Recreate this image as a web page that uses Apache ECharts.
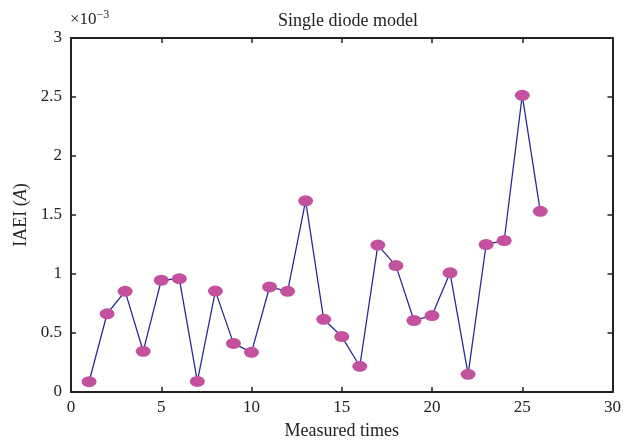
<!DOCTYPE html>
<html>
<head>
<meta charset="utf-8">
<script src="https://cdn.jsdelivr.net/npm/echarts@6/dist/echarts.min.js"></script>
<style>
  html, body { margin: 0; padding: 0; background: #fff; }
  #chart { width: 624px; height: 446px; }
</style>
</head>
<body>
<div id="chart"></div>
<script>
// IAEI values in units of 1e-3 A
const measuredTimes = [1, 2, 3, 4, 5, 6, 7, 8, 9, 10, 11, 12, 13, 14, 15, 16, 17, 18, 19, 20, 21, 22, 23, 24, 25, 26];
const iaei = [0.087, 0.663, 0.853, 0.345, 0.947, 0.960, 0.090, 0.855, 0.412, 0.336, 0.890, 0.853, 1.620,
  0.616, 0.470, 0.218, 1.245, 1.071, 0.606, 0.648, 1.010, 0.150, 1.250, 1.284, 2.514, 1.531];

const FONT = '"Liberation Serif", "DejaVu Serif", serif';
const INK = '#222';

const chart = echarts.init(document.getElementById('chart'));

const frameAxis = {
  axisLine: { show: true, onZero: false, lineStyle: { color: INK, width: 2 } },
  axisTick: { show: true, inside: true, length: 5, lineStyle: { color: INK, width: 1.5 } },
  splitLine: { show: false },
};

chart.setOption({
  animation: false,
  textStyle: { fontFamily: FONT },
  title: {
    text: 'Single diode model',
    left: 343, top: 7, textAlign: 'center',
    textStyle: { fontFamily: FONT, fontSize: 18, fontWeight: 'normal', color: INK },
  },
  graphic: [{
    type: 'text', left: 70, top: 9,
    style: {
      text: '×10{s|−3}',
      font: '17px ' + FONT, fill: INK,
      rich: { s: { fontSize: 12, verticalAlign: 'top', padding: [0, 0, 9, 0], fontFamily: FONT, fill: INK } },
    },
  }],
  grid: { left: 71, right: 8, top: 38, bottom: 54 },
  xAxis: [{
    type: 'value', min: 0, max: 30, interval: 5, position: 'bottom',
    name: 'Measured times', nameLocation: 'middle', nameGap: 30,
    nameTextStyle: { fontFamily: FONT, fontSize: 18, color: INK },
    axisLabel: { fontFamily: FONT, fontSize: 17, color: INK, margin: 7 },
    ...frameAxis,
  }, {
    type: 'value', min: 0, max: 30, interval: 5, position: 'top',
    axisLabel: { show: false },
    ...frameAxis,
  }],
  yAxis: [{
    type: 'value', min: 0, max: 3, interval: 0.5, position: 'left',
    name: 'IAEI ({i|A})', nameLocation: 'middle', nameGap: 37, nameRotate: 90,
    nameTextStyle: {
      fontFamily: FONT, fontSize: 18, color: INK,
      rich: { i: { fontStyle: 'italic', fontFamily: FONT, fontSize: 18, color: INK } },
    },
    axisLabel: { fontFamily: FONT, fontSize: 17, color: INK, margin: 9 },
    ...frameAxis,
  }, {
    type: 'value', min: 0, max: 3, interval: 0.5, position: 'right',
    axisLabel: { show: false },
    ...frameAxis,
  }],
  series: [{
    type: 'line',
    data: measuredTimes.map((t, i) => [t, iaei[i]]),
    symbol: 'circle',
    symbolSize: [15, 11],
    showAllSymbol: true,
    lineStyle: { color: '#2b2b92', width: 1.3 },
    itemStyle: { color: '#c4519e', borderWidth: 0 },
    z: 3,
  }],
});
</script>
</body>
</html>
